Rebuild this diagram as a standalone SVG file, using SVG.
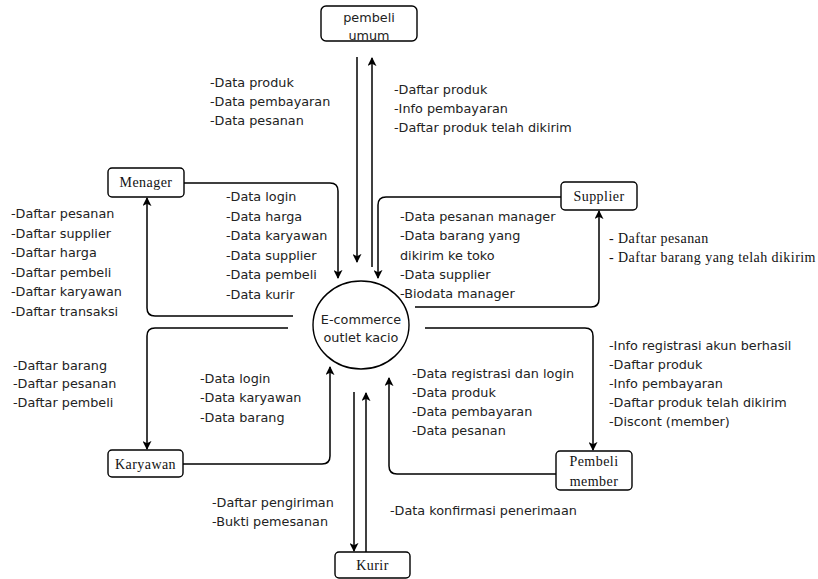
<svg xmlns="http://www.w3.org/2000/svg" width="818" height="579" viewBox="0 0 818 579">
<defs>
<marker id="arr" viewBox="0 0 10 10" refX="9" refY="5" markerWidth="9" markerHeight="9" markerUnits="userSpaceOnUse" orient="auto">
<path d="M0,0 L10,5 L0,10 L2.5,5 z" fill="#000"/>
</marker>
<style>
.node rect{fill:#fff;stroke:#000;stroke-width:1.4}
.node ellipse{fill:#fff;stroke:#000;stroke-width:1.4}
.serif{font-family:"Liberation Serif","Times New Roman",serif;font-size:14px;letter-spacing:0.45px;fill:#111;text-anchor:middle}
.sans{font-family:"DejaVu Sans","Noto Sans",sans-serif;font-size:12.8px;fill:#222}
.ctr{text-anchor:middle}
.conn path{fill:none;stroke:#000;stroke-width:1.5;marker-end:url(#arr)}
</style>
</defs>
<rect width="818" height="579" fill="#fff"/>

<g id="connectors" class="conn">
<path d="M357,57 V262"/>
<path d="M372,267 V58"/>
<path d="M184,183 H330 Q338,183 338,191 V278"/>
<path d="M293,316 H155 Q147,316 147,308 V198"/>
<path d="M561,197 H386 Q378,197 378,205 V278"/>
<path d="M415,307 H591 Q599,307 599,299 V211"/>
<path d="M288,328 H155 Q147,328 147,336 V449"/>
<path d="M183,464 H322 Q330,464 330,456 V367"/>
<path d="M425,328 H585 Q593,328 593,336 V450"/>
<path d="M556,474 H397 Q389,474 389,466 V378"/>
<path d="M354,392 V551"/>
<path d="M366,552 V393"/>
</g>

<g id="process" class="node">
<ellipse cx="361" cy="325" rx="48" ry="44"/>
<text class="sans ctr" x="361" y="323.5">E-commerce</text>
<text class="sans ctr" x="361" y="341.5">outlet kacio</text>
</g>
<g id="pembeli-umum" class="node">
<rect x="321" y="6" width="96" height="35" rx="5"/>
<text class="sans ctr" x="369" y="22">pembeli</text>
<text class="sans ctr" x="369" y="39.5">umum</text>
</g>
<g id="menager" class="node">
<rect x="108" y="168" width="76" height="29" rx="4"/>
<text class="serif" x="146" y="187">Menager</text>
</g>
<g id="supplier" class="node">
<rect x="561" y="182" width="76" height="28" rx="4"/>
<text class="serif" x="599" y="201">Supplier</text>
</g>
<g id="karyawan" class="node">
<rect x="108" y="450" width="75" height="27" rx="4"/>
<text class="serif" x="145.5" y="468.5">Karyawan</text>
</g>
<g id="pembeli-member" class="node">
<rect x="556" y="451" width="76" height="39" rx="4"/>
<text class="serif" x="594" y="466">Pembeli</text>
<text class="serif" x="594" y="486">member</text>
</g>
<g id="kurir" class="node">
<rect x="335" y="552" width="75" height="26" rx="4"/>
<text class="serif" x="372.5" y="570">Kurir</text>
</g>

<g id="labels" class="sans">
<text x="210" y="87">-Data produk</text>
<text x="210" y="106">-Data pembayaran</text>
<text x="210" y="124.5">-Data pesanan</text>

<text x="394" y="94">-Daftar produk</text>
<text x="394" y="113">-Info pembayaran</text>
<text x="394" y="132">-Daftar produk telah dikirim</text>

<text x="11" y="218">-Daftar pesanan</text>
<text x="11" y="237.5">-Daftar supplier</text>
<text x="11" y="257">-Daftar harga</text>
<text x="11" y="276.5">-Daftar pembeli</text>
<text x="11" y="296">-Daftar karyawan</text>
<text x="11" y="315.5">-Daftar transaksi</text>

<text x="226" y="201">-Data login</text>
<text x="226" y="220.5">-Data harga</text>
<text x="226" y="240">-Data karyawan</text>
<text x="226" y="259.5">-Data supplier</text>
<text x="226" y="279">-Data pembeli</text>
<text x="226" y="298.5">-Data kurir</text>

<text x="400" y="221">-Data pesanan manager</text>
<text x="400" y="240">-Data barang yang</text>
<text x="400" y="259.5">dikirim ke toko</text>
<text x="400" y="278.5">-Data supplier</text>
<text x="400" y="297.5">-Biodata manager</text>

<text class="serif" style="text-anchor:start" x="609" y="243">- Daftar pesanan</text>
<text class="serif" style="text-anchor:start" x="609" y="262">- Daftar barang yang telah dikirim</text>

<text x="13" y="369.5">-Daftar barang</text>
<text x="13" y="388">-Daftar pesanan</text>
<text x="13" y="407">-Daftar pembeli</text>

<text x="200" y="383">-Data login</text>
<text x="200" y="402">-Data karyawan</text>
<text x="200" y="421.5">-Data barang</text>

<text x="412" y="378">-Data registrasi dan login</text>
<text x="412" y="396.5">-Data produk</text>
<text x="412" y="415.5">-Data pembayaran</text>
<text x="412" y="434.5">-Data pesanan</text>

<text x="609" y="349.5">-Info registrasi akun berhasil</text>
<text x="609" y="368.5">-Daftar produk</text>
<text x="609" y="388">-Info pembayaran</text>
<text x="609" y="407">-Daftar produk telah dikirim</text>
<text x="609" y="426">-Discont (member)</text>

<text x="212" y="507">-Daftar pengiriman</text>
<text x="212" y="526">-Bukti pemesanan</text>

<text x="390" y="515">-Data konfirmasi penerimaan</text>
</g>
</svg>
